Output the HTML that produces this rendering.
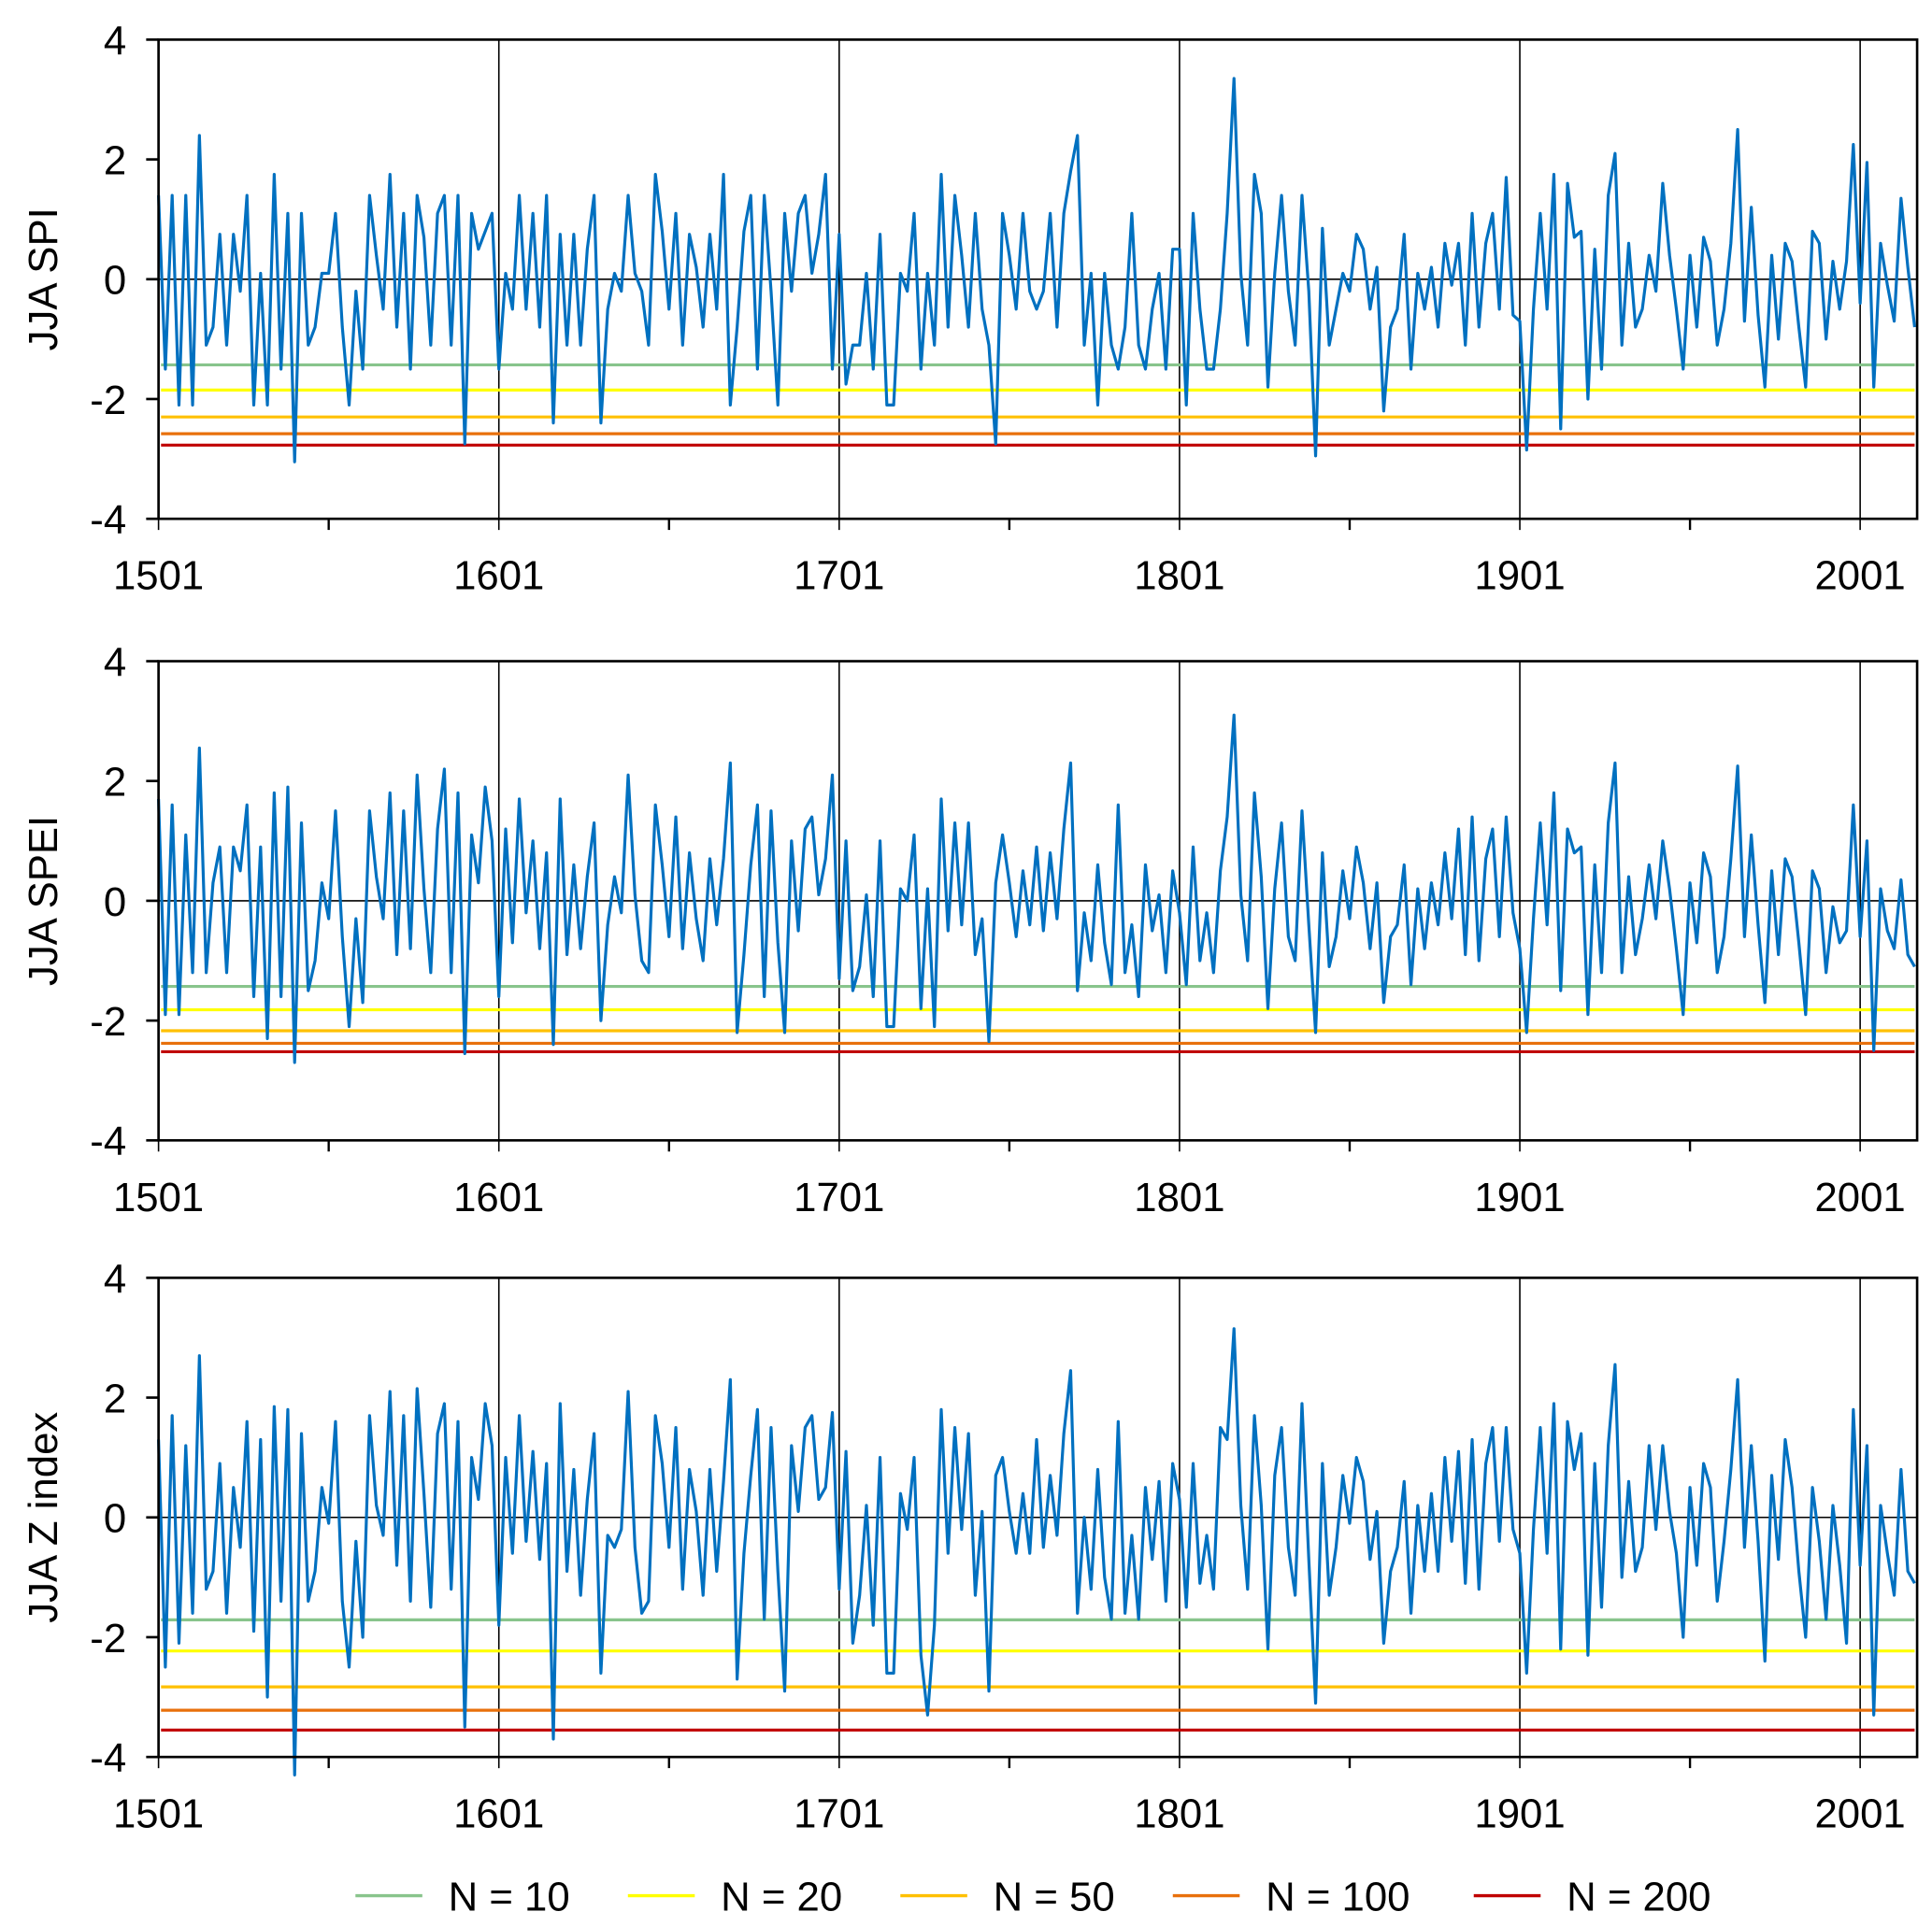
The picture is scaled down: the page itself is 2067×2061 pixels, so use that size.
<!DOCTYPE html>
<html><head><meta charset="utf-8"><style>
html,body{margin:0;padding:0;background:#fff}
svg{display:block}
text{font-family:"Liberation Sans",Arial,sans-serif;fill:#000}
</style></head><body>
<svg id="chart" width="2067" height="2061" viewBox="0 0 1560 1555.5" xmlns="http://www.w3.org/2000/svg"></svg>
<script>
const startYear = 1501, stepYears = 2;
const xTickYears = [1501,1601,1701,1801,1901,2001];
const minorTickYears = [1551,1651,1751,1851,1951];
const yTicks = [4,2,0,-2,-4];
const panelNames = ["JJA SPI","JJA SPEI","JJA Z index"];
const thresholdLabels = ["N = 10","N = 20","N = 50","N = 100","N = 200"];
const thresholdColors = ["#88c48c","#ffff00","#ffc000","#e8700c","#c00000"];
const spiThresholds = [-1.43,-1.85,-2.3,-2.58,-2.77];
const speiThresholds = [-1.43,-1.82,-2.17,-2.38,-2.52];
const zThresholds = [-1.71,-2.23,-2.83,-3.22,-3.55];
const spiValues = [1.4,-1.5,1.4,-2.1,1.4,-2.1,2.4,-1.1,-0.8,0.75,
-1.1,0.75,-0.2,1.4,-2.1,0.1,-2.1,1.75,-1.5,1.1,
-3.05,1.1,-1.1,-0.8,0.1,0.1,1.1,-0.8,-2.1,-0.2,
-1.5,1.4,0.4,-0.5,1.75,-0.8,1.1,-1.5,1.4,0.7,
-1.1,1.1,1.4,-1.1,1.4,-2.75,1.1,0.5,0.8,1.1,
-1.5,0.1,-0.5,1.4,-0.5,1.1,-0.8,1.4,-2.4,0.75,
-1.1,0.75,-1.1,0.5,1.4,-2.4,-0.5,0.1,-0.2,1.4,
0.1,-0.2,-1.1,1.75,0.8,-0.5,1.1,-1.1,0.75,0.2,
-0.8,0.75,-0.5,1.75,-2.1,-0.8,0.8,1.4,-1.5,1.4,
-0.2,-2.1,1.1,-0.2,1.1,1.4,0.1,0.75,1.75,-1.5,
0.75,-1.75,-1.1,-1.1,0.1,-1.5,0.75,-2.1,-2.1,0.1,
-0.2,1.1,-1.5,0.1,-1.1,1.75,-0.8,1.4,0.4,-0.8,
1.1,-0.5,-1.1,-2.75,1.1,0.4,-0.5,1.1,-0.2,-0.5,
-0.2,1.1,-0.8,1.1,1.8,2.4,-1.1,0.1,-2.1,0.1,
-1.1,-1.5,-0.8,1.1,-1.1,-1.5,-0.5,0.1,-1.5,0.5,
0.5,-2.1,1.1,-0.5,-1.5,-1.5,-0.5,1.1,3.35,0.1,
-1.1,1.75,1.1,-1.8,0.1,1.4,-0.2,-1.1,1.4,-0.2,
-2.95,0.85,-1.1,-0.5,0.1,-0.2,0.75,0.5,-0.5,0.2,
-2.2,-0.8,-0.5,0.75,-1.5,0.1,-0.5,0.2,-0.8,0.6,
-0.1,0.6,-1.1,1.1,-0.8,0.6,1.1,-0.5,1.7,-0.6,
-0.7,-2.85,-0.5,1.1,-0.5,1.75,-2.5,1.6,0.7,0.8,
-2.0,0.5,-1.5,1.4,2.1,-1.1,0.6,-0.8,-0.5,0.4,
-0.2,1.6,0.4,-0.5,-1.5,0.4,-0.8,0.7,0.3,-1.1,
-0.5,0.6,2.5,-0.7,1.2,-0.6,-1.8,0.4,-1.0,0.6,
0.3,-0.8,-1.8,0.8,0.6,-1.0,0.3,-0.5,0.3,2.25,
-0.4,1.95,-1.8,0.6,-0.1,-0.7,1.35,0.2,-0.8];
const speiValues = [1.7,-1.9,1.6,-1.9,1.1,-1.2,2.55,-1.2,0.3,0.9,
-1.2,0.9,0.5,1.6,-1.6,0.9,-2.3,1.8,-1.6,1.9,
-2.7,1.3,-1.5,-1.0,0.3,-0.3,1.5,-0.6,-2.1,-0.3,
-1.7,1.5,0.4,-0.3,1.8,-0.9,1.5,-0.8,2.1,0.2,
-1.2,1.2,2.2,-1.2,1.8,-2.55,1.1,0.3,1.9,1.0,
-1.6,1.2,-0.7,1.7,-0.2,1.0,-0.8,0.8,-2.4,1.7,
-0.9,0.6,-0.8,0.4,1.3,-2.0,-0.4,0.4,-0.2,2.1,
0.1,-1.0,-1.2,1.6,0.6,-0.6,1.4,-0.8,0.8,-0.3,
-1.0,0.7,-0.4,0.7,2.3,-2.2,-0.9,0.6,1.6,-1.6,
1.5,-0.7,-2.2,1.0,-0.5,1.2,1.4,0.1,0.7,2.1,
-1.3,1.0,-1.5,-1.1,0.1,-1.6,1.0,-2.1,-2.1,0.2,
0.0,1.1,-1.8,0.2,-2.1,1.7,-0.5,1.3,-0.4,1.3,
-0.9,-0.3,-2.35,0.3,1.1,0.3,-0.6,0.5,-0.4,0.9,
-0.5,0.8,-0.3,1.2,2.3,-1.5,-0.2,-1.0,0.6,-0.7,
-1.4,1.6,-1.2,-0.4,-1.6,0.6,-0.5,0.1,-1.2,0.5,
-0.2,-1.4,0.9,-1.0,-0.2,-1.2,0.5,1.4,3.1,0.1,
-1.0,1.8,0.4,-1.8,0.2,1.3,-0.6,-1.0,1.5,-0.4,
-2.2,0.8,-1.1,-0.6,0.5,-0.3,0.9,0.3,-0.8,0.3,
-1.7,-0.6,-0.4,0.6,-1.4,0.2,-0.8,0.3,-0.4,0.8,
-0.3,1.2,-0.9,1.4,-1.0,0.7,1.2,-0.6,1.4,-0.2,
-0.8,-2.2,-0.3,1.3,-0.4,1.8,-1.5,1.2,0.8,0.9,
-1.9,0.6,-1.2,1.3,2.3,-1.2,0.4,-0.9,-0.3,0.6,
-0.3,1.0,0.2,-0.8,-1.9,0.3,-0.7,0.8,0.4,-1.2,
-0.6,0.7,2.25,-0.6,1.1,-0.4,-1.7,0.5,-0.9,0.7,
0.4,-0.7,-1.9,0.5,0.2,-1.2,-0.1,-0.7,-0.5,1.6,
-0.6,1.0,-2.5,0.2,-0.5,-0.8,0.35,-0.9,-1.1];
const zValues = [1.3,-2.5,1.7,-2.1,1.2,-1.6,2.7,-1.2,-0.9,0.9,
-1.6,0.5,-0.5,1.6,-1.9,1.3,-3.0,1.85,-1.4,1.8,
-4.3,1.4,-1.4,-0.9,0.5,-0.1,1.6,-1.4,-2.5,-0.4,
-2.0,1.7,0.2,-0.3,2.1,-0.8,1.7,-1.4,2.15,0.4,
-1.5,1.4,1.9,-1.2,1.6,-3.5,1.0,0.3,1.9,1.2,
-1.8,1.0,-0.6,1.7,-0.4,1.1,-0.7,0.9,-3.7,1.9,
-0.9,0.8,-1.3,0.3,1.4,-2.6,-0.3,-0.5,-0.2,2.1,
-0.5,-1.6,-1.4,1.7,0.9,-0.5,1.5,-1.2,0.8,0.1,
-1.3,0.8,-0.9,0.6,2.3,-2.7,-0.6,0.7,1.8,-1.7,
1.5,-0.9,-2.9,1.2,0.1,1.5,1.7,0.3,0.5,1.75,
-1.2,1.1,-2.1,-1.3,0.2,-1.8,1.0,-2.6,-2.6,0.4,
-0.2,1.0,-2.3,-3.3,-1.8,1.8,-0.6,1.5,-0.2,1.4,
-1.3,0.1,-2.9,0.7,1.0,0.1,-0.6,0.4,-0.6,1.3,
-0.5,0.7,-0.3,1.4,2.45,-1.6,0.0,-1.2,0.8,-1.0,
-1.7,1.6,-1.6,-0.3,-1.7,0.5,-0.7,0.6,-1.4,0.9,
0.3,-1.5,0.9,-1.1,-0.3,-1.2,1.5,1.3,3.15,0.2,
-1.2,1.7,0.2,-2.2,0.7,1.5,-0.5,-1.3,1.9,-0.7,
-3.1,0.9,-1.3,-0.5,0.7,-0.1,1.0,0.6,-0.7,0.1,
-2.1,-0.9,-0.5,0.6,-1.6,0.2,-0.9,0.4,-0.9,1.0,
-0.4,1.1,-1.1,1.3,-1.2,0.9,1.5,-0.4,1.5,-0.2,
-0.6,-2.6,-0.2,1.5,-0.6,1.9,-2.2,1.6,0.8,1.4,
-2.3,0.9,-1.5,1.2,2.55,-1.0,0.6,-0.9,-0.5,1.2,
-0.2,1.2,0.1,-0.6,-2.0,0.5,-0.8,0.9,0.5,-1.4,
-0.4,0.8,2.3,-0.5,1.2,-0.4,-2.4,0.7,-0.7,1.3,
0.5,-0.9,-2.0,0.5,-0.4,-1.7,0.2,-0.8,-2.1,1.8,
-0.8,1.2,-3.3,0.2,-0.6,-1.3,0.8,-0.9,-1.1];

const NS = "http://www.w3.org/2000/svg";
const svg = document.getElementById("chart");
function mk(tag, attrs, parent){
  const e = document.createElementNS(NS, tag);
  for (const k in attrs) e.setAttribute(k, attrs[k]);
  (parent||svg).appendChild(e);
  return e;
}
const X0 = 128, X1 = 1548, pxPerYear = (1502-128)/500;
function xScale(year){ return X0 + (year-1501)*pxPerYear; }

const panels = [
  {top:32, bottom:419, values:spiValues, th:spiThresholds, label:"JJA SPI", key:"spi"},
  {top:534, bottom:921, values:speiValues, th:speiThresholds, label:"JJA SPEI", key:"spei"},
  {top:1032, bottom:1419, values:zValues, th:zThresholds, label:"JJA Z index", key:"z"}
];

panels.forEach(p=>{
  const g = mk("g", {});
  
  
  const yScale = v => p.top + (4 - v) * (p.bottom - p.top) / 8;
  xTickYears.forEach(yr=>{
    const x = xScale(yr);
    const l = mk("line",{x1:x,x2:x,y1:p.top,y2:p.bottom+9,stroke:"#000","stroke-width":1.2},g);
    
    
    const t = mk("text",{x:x,y:p.bottom+57,"text-anchor":"middle","font-size":33},g);
    t.textContent = yr;
    
    
  });
  minorTickYears.forEach(yr=>{
    const x = xScale(yr);
    const l = mk("line",{x1:x,x2:x,y1:p.bottom,y2:p.bottom+9,stroke:"#000","stroke-width":1.8},g);
    
    
  });
  const z = mk("line",{x1:X0,x2:X1,y1:yScale(0),y2:yScale(0),stroke:"#000","stroke-width":1.2},g);
  
  
  p.th.forEach((v,i)=>{
    const l = mk("line",{x1:X0+2,x2:X1-2,y1:yScale(v),y2:yScale(v),stroke:thresholdColors[i],"stroke-width":2.4},g);
    
    
  });
  const pts = p.values.map((v,i)=> xScale(startYear + i*stepYears).toFixed(1)+","+yScale(v).toFixed(1)).join(" ");
  const pl = mk("polyline",{points:pts,fill:"none",stroke:"#0070c0","stroke-width":2.4,"stroke-linejoin":"round"},g);
  
  
  const fr = mk("rect",{x:X0,y:p.top,width:X1-X0,height:p.bottom-p.top,fill:"none",stroke:"#000","stroke-width":2},g);
  
  
  yTicks.forEach(v=>{
    const y = yScale(v);
    const l = mk("line",{x1:X0-10,x2:X0,y1:y,y2:y,stroke:"#000","stroke-width":2},g);
    
    
    const t = mk("text",{x:102,y:y+12,"text-anchor":"end","font-size":33},g);
    t.textContent = v;
    
    
  });
  const cy = (p.top+p.bottom)/2;
  const yl = mk("text",{x:0,y:0,"text-anchor":"middle","font-size":33,transform:`translate(46,${cy}) rotate(-90)`},g);
  yl.textContent = p.label;
  
  
});

const lg = mk("g",{});


const legendX = [287,507,727,947,1190];
thresholdLabels.forEach((lab,i)=>{
  const x = legendX[i];
  const l = mk("line",{x1:x,x2:x+54,y1:1531,y2:1531,stroke:thresholdColors[i],"stroke-width":2.6},lg);
  
  
  const t = mk("text",{x:x+75,y:1543,"font-size":33},lg);
  t.textContent = lab;
  
  
});
</script>
</body></html>
